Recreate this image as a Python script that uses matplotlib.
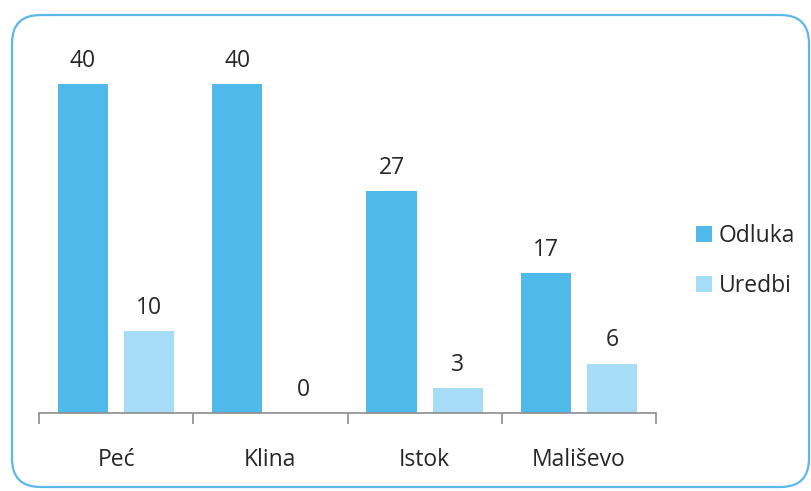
import matplotlib
matplotlib.use("Agg")
import matplotlib.pyplot as plt
from matplotlib.patches import FancyBboxPatch
import numpy as np

categories = ["Peć", "Klina", "Istok", "Mališevo"]
odluka = [40, 40, 27, 17]
uredbi = [10, 0, 3, 6]
series_names = ["Odluka", "Uredbi"]

plt.rcParams['font.family'] = ['Open Sans', 'DejaVu Sans']

W, H = 811, 491
fig = plt.figure(figsize=(W/100, H/100), dpi=100)

# rounded border
border = FancyBboxPatch((12/W, 4/H), (797/W), (472/H),
                        boxstyle="round,pad=0,rounding_size=0.035",
                        transform=fig.transFigure, fill=False,
                        edgecolor="#5BB8E8", linewidth=1.6, mutation_aspect=W/H)
fig.patches.append(border)

ax = fig.add_axes([39/W, (H-413)/H, 617/W, 370/H])
x = np.arange(len(categories))
w = 0.325
off = 0.215
c1 = "#4FB9EA"
c2 = "#A6DCF5"
b1 = ax.bar(x - off, odluka, w, color=c1, label=series_names[0])
b2 = ax.bar(x + off, uredbi, w, color=c2, label=series_names[1])

fs = 16.5
for bars, vals in ((b1, odluka), (b2, uredbi)):
    for r, v in zip(bars, vals):
        ax.text(r.get_x() + r.get_width()/2, v + 2.1, str(v), ha="center",
                va="baseline", fontsize=fs, color="#262626")

ax.set_xlim(-0.5, 3.5)
ax.set_ylim(0, 45)
ax.set_yticks([])
for s in ("top", "right", "left"):
    ax.spines[s].set_visible(False)
ax.spines["bottom"].set_color("#8C8C8C")
ax.spines["bottom"].set_linewidth(1.2)
ax.set_xticks(x)
ax.set_xticklabels(categories, fontsize=fs, color="#262626")
ax.tick_params(axis="x", which="major", length=0, pad=25)
ax.set_xticks(np.arange(-0.5, 4.0, 1.0), minor=True)
ax.tick_params(axis="x", which="minor", length=8, color="#8C8C8C", width=1.2)

leg = fig.legend(handles=[b1, b2], labels=series_names, loc="center left",
                 bbox_to_anchor=(675/W, (H-261)/H), frameon=False,
                 fontsize=fs, handlelength=0.7, handleheight=0.7,
                 handletextpad=0.3, labelspacing=1.15)
for t in leg.get_texts():
    t.set_color("#262626")

fig.savefig("out.png", dpi=100)
